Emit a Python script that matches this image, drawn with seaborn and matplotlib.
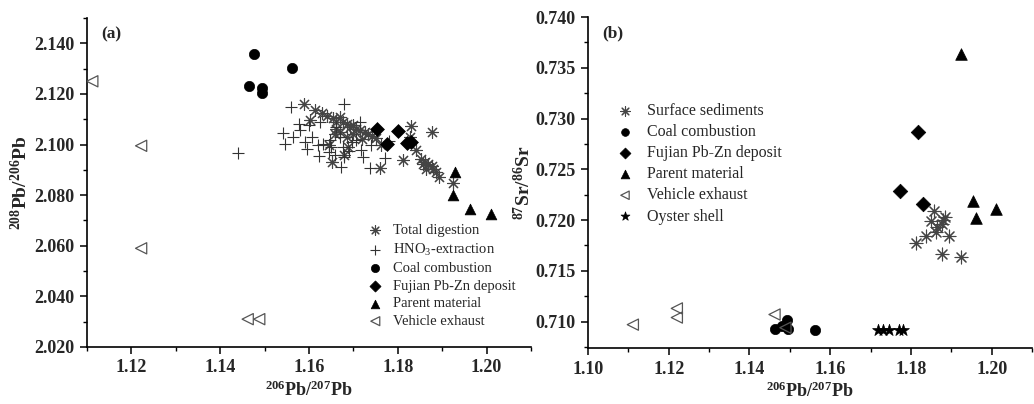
import numpy as np
import pandas as pd
import matplotlib
matplotlib.use("Agg")
import matplotlib.pyplot as plt
from matplotlib.ticker import MultipleLocator, FormatStrFormatter
import seaborn as sns

# ---------------- Panel (a) data: 206Pb/207Pb vs 208Pb/206Pb ----------------
total_x = [1.1589, 1.1614, 1.1629, 1.1640, 1.1655, 1.1670, 1.1662, 1.1677, 1.1685, 1.1692,
           1.1700, 1.1707, 1.1715, 1.1726, 1.1733, 1.1741, 1.1602, 1.1658, 1.1685, 1.1689,
           1.1651, 1.1760, 1.1812, 1.1763, 1.1829, 1.1877, 1.1828, 1.1840, 1.1853, 1.1861,
           1.1868, 1.1876, 1.1880, 1.1887, 1.1894, 1.1864, 1.1857, 1.1924, 1.1670, 1.1700,
           1.1645, 1.1720, 1.1750, 1.1680, 1.1660]
total_y = [2.1162, 2.1138, 2.1125, 2.1112, 2.1103, 2.1109, 2.1089, 2.1089, 2.1083, 2.1070,
           2.1076, 2.1063, 2.1057, 2.1050, 2.1041, 2.1033, 2.1096, 2.1041, 2.1030, 2.0991,
           2.0931, 2.0908, 2.0938, 2.1000, 2.1073, 2.1050, 2.1030, 2.0980, 2.0941, 2.0931,
           2.0922, 2.0914, 2.0905, 2.0892, 2.0872, 2.0905, 2.0923, 2.0848, 2.1050, 2.1040,
           2.1000, 2.1020, 2.1025, 2.0960, 2.1060]

hno3_x = [1.1441, 1.1559, 1.1679, 1.1541, 1.1546, 1.1565, 1.1578, 1.1580, 1.1600, 1.1606,
          1.1591, 1.1595, 1.1625, 1.1631, 1.1647, 1.1646, 1.1623, 1.1658, 1.1673, 1.1680,
          1.1677, 1.1696, 1.1707, 1.1718, 1.1722, 1.1715, 1.1737, 1.1771, 1.1662, 1.1670,
          1.1620, 1.1650, 1.1690, 1.1740, 1.1780]
hno3_y = [2.0965, 2.1148, 2.1162, 2.1044, 2.1004, 2.1028, 2.1083, 2.1057, 2.1076, 2.1028,
          2.1010, 2.0984, 2.1089, 2.1004, 2.1017, 2.0971, 2.0954, 2.0958, 2.0912, 2.0951,
          2.0991, 2.1010, 2.1017, 2.0980, 2.0951, 2.1089, 2.0909, 2.0947, 2.1070, 2.1030,
          2.1000, 2.0990, 2.0975, 2.1000, 2.1015]

coal_a_x = [1.1476, 1.1465, 1.1494, 1.1494, 1.1562]
coal_a_y = [2.1357, 2.1230, 2.1222, 2.1203, 2.1301]

fujian_a_x = [1.1753, 1.1800, 1.1775, 1.1820, 1.1829]
fujian_a_y = [2.1060, 2.1053, 2.1001, 2.1005, 2.1010]

parent_a_x = [1.1928, 1.1924, 1.1962, 1.2011]
parent_a_y = [2.0890, 2.0800, 2.0745, 2.0725]

vehicle_a_x = [1.1112, 1.1222, 1.1222, 1.1462, 1.1488]
vehicle_a_y = [2.1250, 2.0995, 2.0590, 2.0310, 2.0310]

# ---------------- Panel (b) data: 206Pb/207Pb vs 87Sr/86Sr ----------------
surface_x = [1.1857, 1.1884, 1.1850, 1.1877, 1.1864, 1.1862, 1.1837, 1.1894, 1.1812, 1.1877,
             1.1923, 1.1880]
surface_y = [0.7209, 0.7203, 0.7199, 0.7196, 0.7193, 0.7188, 0.7184, 0.7184, 0.7177, 0.7167,
             0.7164, 0.7200]

coal_b_x = [1.1464, 1.1494, 1.1496, 1.1480, 1.1563]
coal_b_y = [0.7093, 0.7102, 0.7093, 0.7096, 0.7092]

fujian_b_x = [1.1817, 1.1773, 1.1830]
fujian_b_y = [0.7287, 0.7229, 0.7216]

parent_b_x = [1.1923, 1.1953, 1.1960, 1.2010]
parent_b_y = [0.7364, 0.7219, 0.7202, 0.7211]

vehicle_b_x = [1.1111, 1.1220, 1.1220, 1.1462, 1.1489]
vehicle_b_y = [0.7097, 0.7113, 0.7104, 0.7107, 0.7094]

oyster_x = [1.1719, 1.1731, 1.1746, 1.1770, 1.1780]
oyster_y = [0.7092, 0.7092, 0.7092, 0.7092, 0.7092]

# ---------------- styling ----------------
sns.set_theme(style="ticks")
plt.rcParams['font.family'] = ['Liberation Serif', 'DejaVu Serif']
plt.rcParams['mathtext.fontset'] = 'custom'
plt.rcParams['mathtext.rm'] = 'Liberation Serif'
plt.rcParams['mathtext.it'] = 'Liberation Serif:italic'
plt.rcParams['mathtext.bf'] = 'Liberation Serif:bold'

fig = plt.figure(figsize=(10.34, 4.04), dpi=100)
ax1 = fig.add_axes([0.0841, 0.1411, 0.4294, 0.8143])
ax2 = fig.add_axes([0.5687, 0.1386, 0.4294, 0.8193])

ASTER = (8, 2, 0)
GREY = '#555555'
AST = '#444444'


def draw(ax, x, y, marker, s, label, face, edge, lw=1.0, z=2):
    sns.scatterplot(x=x, y=y, ax=ax, marker=marker, s=s, label=label,
                    facecolor=face, edgecolor=edge, linewidth=lw, zorder=z)


# Panel (a)
draw(ax1, total_x, total_y, ASTER, 75, 'Total digestion', AST, AST, 0.8)
draw(ax1, hno3_x, hno3_y, '+', 75, 'HNO$_3$-extraction', '#333333', '#333333', 0.8)
draw(ax1, coal_a_x, coal_a_y, 'o', 55, 'Coal combustion', 'black', 'black', 0.5, 3)
draw(ax1, fujian_a_x, fujian_a_y, 'D', 50, 'Fujian Pb-Zn deposit', 'black', 'black', 0.5, 3)
draw(ax1, parent_a_x, parent_a_y, '^', 60, 'Parent material', 'black', 'black', 0.5, 3)
draw(ax1, vehicle_a_x, vehicle_a_y, '<', 65, 'Vehicle exhaust', 'none', GREY, 0.9, 3)

# Panel (b)
draw(ax2, surface_x, surface_y, ASTER, 85, 'Surface sediments', AST, AST, 0.8)
draw(ax2, coal_b_x, coal_b_y, 'o', 55, 'Coal combustion', 'black', 'black', 0.5, 3)
draw(ax2, fujian_b_x, fujian_b_y, 'D', 55, 'Fujian Pb-Zn deposit', 'black', 'black', 0.5, 3)
draw(ax2, parent_b_x, parent_b_y, '^', 70, 'Parent material', 'black', 'black', 0.5, 3)
draw(ax2, vehicle_b_x, vehicle_b_y, '<', 65, 'Vehicle exhaust', 'none', GREY, 0.9, 3)
draw(ax2, oyster_x, oyster_y, '*', 80, 'Oyster shell', 'black', 'black', 0.5, 3)

# Axes settings
ax1.set_xlim(1.11, 1.21)
ax1.set_ylim(2.02, 2.15)
ax1.xaxis.set_minor_locator(MultipleLocator(0.01))
ax1.yaxis.set_minor_locator(MultipleLocator(0.01))
ax1.set_xticks([1.12, 1.14, 1.16, 1.18, 1.20])
ax1.set_yticks([2.02, 2.04, 2.06, 2.08, 2.10, 2.12, 2.14])
ax1.xaxis.set_major_formatter(FormatStrFormatter('%.2f'))
ax1.yaxis.set_major_formatter(FormatStrFormatter('%.3f'))

ax2.set_xlim(1.10, 1.21)
ax2.set_ylim(0.7074, 0.740)
ax2.xaxis.set_minor_locator(MultipleLocator(0.01))
ax2.yaxis.set_minor_locator(MultipleLocator(0.0025))
ax2.set_xticks([1.10, 1.12, 1.14, 1.16, 1.18, 1.20])
ax2.set_yticks([0.710, 0.715, 0.720, 0.725, 0.730, 0.735, 0.740])
ax2.xaxis.set_major_formatter(FormatStrFormatter('%.2f'))
ax2.yaxis.set_major_formatter(FormatStrFormatter('%.3f'))

for ax in (ax1, ax2):
    sns.despine(ax=ax)
    for sp in ('left', 'bottom'):
        ax.spines[sp].set_linewidth(1.2)
        ax.spines[sp].set_color('black')
    ax.tick_params(which='major', direction='out', length=5, width=1.1, color='black',
                   labelsize=13, pad=4)
    ax.tick_params(which='minor', direction='out', length=3, width=1.0, color='black')
    for lab in ax.get_xticklabels() + ax.get_yticklabels():
        lab.set_fontweight('bold')
    ax.set_xlabel(r'$\mathbf{{}^{206}Pb/{}^{207}Pb}$', fontsize=13, labelpad=3)

ax1.set_ylabel(r'$\mathbf{{}^{208}Pb/{}^{206}Pb}$', fontsize=14, labelpad=2)
ax2.set_ylabel(r'$\mathbf{{}^{87}Sr/{}^{86}Sr}$', fontsize=14, labelpad=1)

ax1.text(0.032, 0.975, '(a)', transform=ax1.transAxes, fontsize=12.5,
         fontweight='bold', va='top', ha='left')
ax2.text(0.032, 0.975, '(b)', transform=ax2.transAxes, fontsize=12.5,
         fontweight='bold', va='top', ha='left')

# Legends
leg1 = ax1.legend(loc='upper left', bbox_to_anchor=(368 / 1034, 1 - 224 / 404),
                  bbox_transform=fig.transFigure, frameon=False, fontsize=10.5,
                  handlelength=1.0, handletextpad=0.7, labelspacing=0.3,
                  borderpad=0, borderaxespad=0, markerscale=0.8)
leg2 = ax2.legend(loc='upper left', bbox_to_anchor=(617 / 1034, 1 - 103 / 404),
                  bbox_transform=fig.transFigure, frameon=False, fontsize=11.5,
                  handlelength=1.0, handletextpad=0.9, labelspacing=0.32,
                  borderpad=0, borderaxespad=0, markerscale=0.75)

fig.savefig('out.png', dpi=100)
